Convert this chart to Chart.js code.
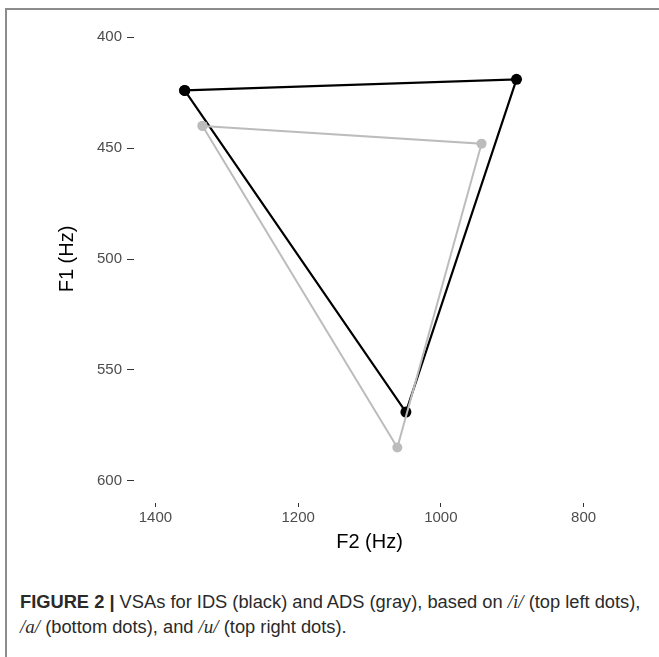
<!DOCTYPE html>
<html>
<head>
<meta charset="utf-8">
<script src="https://cdn.jsdelivr.net/npm/chart.js@4"></script>
<style>
  html, body { margin: 0; padding: 0; background: #fff; }
  body { width: 659px; height: 657px; position: relative; overflow: hidden; font-family: "Liberation Sans", Arial, sans-serif; }
  #frame { position: absolute; left: 5px; top: 8px; width: 660px; height: 660px; border-top: 2px solid #8c8c8c; border-left: 2px solid #8c8c8c; }
  #wrap { position: absolute; left: 0; top: 0; width: 659px; height: 554px; }
  #caption { position: absolute; left: 20px; top: 589px; width: 636px; font-size: 18.3px; line-height: 25px; color: #2a2a2a; white-space: nowrap; }
  #caption b { font-weight: bold; }
  #caption i { font-family: "Liberation Serif", serif; font-size: 19px; }
</style>
</head>
<body>
<div id="frame"></div>
<div id="wrap"><canvas id="vsaChart" width="659" height="554"></canvas></div>
<div id="caption"><b>FIGURE 2 |</b> VSAs for IDS (black) and ADS (gray), based on <i>/i/</i> (top left dots),<br><i>/a/</i> (bottom dots), and <i>/u/</i> (top right dots).</div>
<script>
// vowel corners, drawn i -> u -> a -> i
const vowels = ['/i/', '/u/', '/a/'];
const idsF2 = [1359, 894, 1049];
const idsF1 = [424, 419, 569];
const adsF2 = [1334, 943, 1061];
const adsF1 = [440, 448, 585];

const f2Ticks = [1400, 1200, 1000, 800];
const f1Ticks = [400, 450, 500, 550, 600];

const toPoints = (xs, ys) => {
  const pts = xs.map((x, i) => ({ x: x, y: ys[i], v: vowels[i] }));
  pts.push(pts[0]);
  return pts;
};

const tickFont = { family: 'Liberation Sans', size: 15 };
const titleFont = { family: 'Liberation Sans', size: 20 };

const ctx = document.getElementById('vsaChart').getContext('2d');
new Chart(ctx, {
  type: 'scatter',
  data: {
    datasets: [
      {
        label: 'ADS',
        data: toPoints(adsF2, adsF1),
        showLine: true,
        borderColor: '#bcbcbc',
        backgroundColor: '#bcbcbc',
        borderWidth: 2,
        pointRadius: 5,
        pointBorderWidth: 0,
        order: 0
      },
      {
        label: 'IDS',
        data: toPoints(idsF2, idsF1),
        showLine: true,
        borderColor: '#000',
        backgroundColor: '#000',
        borderWidth: 2.2,
        pointRadius: 5.5,
        pointBorderWidth: 0,
        order: 1
      }
    ]
  },
  options: {
    responsive: false,
    animation: false,
    layout: { padding: { left: 0, right: 54, top: 15, bottom: 0 } },
    plugins: { legend: { display: false }, tooltip: { enabled: false } },
    scales: {
      x: {
        type: 'linear',
        reverse: true,
        min: 770,
        max: 1430,
        afterBuildTicks: scale => { scale.ticks = f2Ticks.map(v => ({ value: v })); },
        afterFit: scale => { scale.height = 51; },
        grid: { drawOnChartArea: false, tickLength: 4, tickColor: '#333', tickWidth: 1 },
        border: { display: false },
        ticks: { font: tickFont, color: '#4d4d4d', padding: 2, maxRotation: 0, callback: v => String(v) },
        title: { display: true, text: 'F2 (Hz)', font: titleFont, color: '#000', padding: { top: 0, bottom: 0 } }
      },
      y: {
        type: 'linear',
        reverse: true,
        min: 390,
        max: 610,
        afterBuildTicks: scale => { scale.ticks = f1Ticks.map(v => ({ value: v })); },
        afterFit: scale => { scale.width = 134; },
        grid: { drawOnChartArea: false, tickLength: 7, tickColor: '#333', tickWidth: 1 },
        border: { display: false },
        ticks: { font: tickFont, color: '#4d4d4d', padding: 5, callback: v => String(v) },
        title: { display: true, text: 'F1 (Hz)', font: titleFont, color: '#000', padding: { top: 55, bottom: 0 } }
      }
    }
  }
});
</script>
</body>
</html>
